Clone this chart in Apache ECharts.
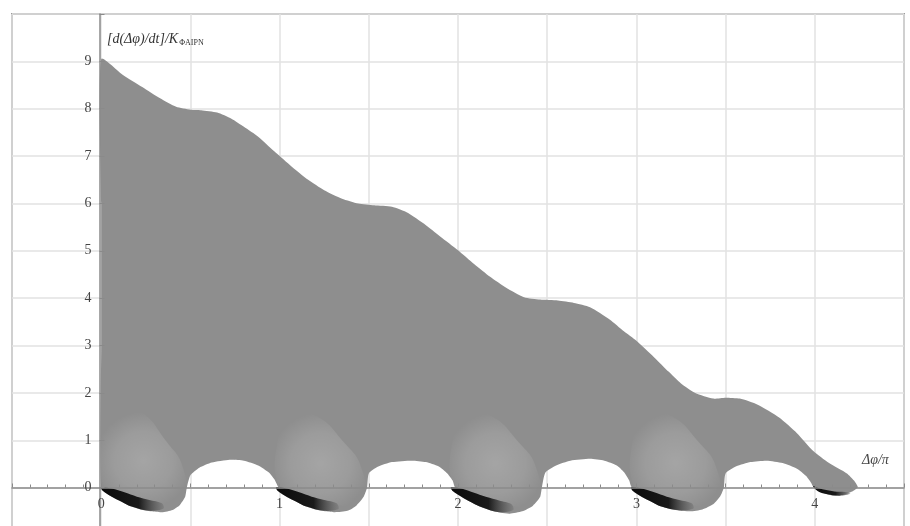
<!DOCTYPE html>
<html>
<head>
<meta charset="utf-8">
<script src="https://cdn.jsdelivr.net/npm/echarts@6.0.0/dist/echarts.min.js"></script>
<style>
  html, body { margin: 0; padding: 0; background: #fff; }
  #chart { width: 910px; height: 526px; }
</style>
</head>
<body>
<div id="chart"></div>
<script>
// x = Δφ/π, y = [d(Δφ)/dt]/K
// upper envelope of the family of trajectories
var topEdge = [
  [0, 9.05], [0.12, 8.72], [0.23, 8.46], [0.33, 8.22], [0.42, 8.04], [0.5, 7.98],
  [0.56, 7.97], [0.65, 7.92], [0.73, 7.79], [0.8, 7.62], [0.88, 7.41], [0.97, 7.1],
  [1.07, 6.77], [1.16, 6.5], [1.25, 6.28], [1.35, 6.1], [1.44, 6.0], [1.53, 5.96],
  [1.63, 5.93], [1.72, 5.8], [1.81, 5.57], [1.9, 5.3], [2.0, 5.01], [2.09, 4.72],
  [2.18, 4.45], [2.27, 4.22], [2.37, 4.02], [2.46, 3.97], [2.56, 3.95], [2.65, 3.9],
  [2.74, 3.81], [2.85, 3.55], [2.93, 3.3], [3.0, 3.1], [3.1, 2.75], [3.18, 2.45],
  [3.25, 2.2], [3.33, 2.0], [3.43, 1.88], [3.5, 1.9], [3.58, 1.88], [3.68, 1.75],
  [3.8, 1.48], [3.9, 1.15], [3.99, 0.78], [4.08, 0.52], [4.18, 0.3], [4.22, 0.15],
  [4.24, 0.03]
];

// lower edge, left to right: loops under the axis, white arches above it
var lowEdge = [
  [0, 0], [0.05, -0.17], [0.1, -0.27], [0.17, -0.4], [0.22, -0.46], [0.28, -0.5],
  [0.34, -0.52], [0.4, -0.47], [0.44, -0.37], [0.47, -0.2], [0.48, 0], [0.5, 0.26],
  [0.55, 0.42], [0.62, 0.53], [0.72, 0.59], [0.8, 0.57], [0.88, 0.47], [0.94, 0.32],
  [0.97, 0.18], [0.99, 0.03],
  [1.03, -0.17], [1.08, -0.27], [1.15, -0.4], [1.2, -0.46], [1.26, -0.5], [1.31, -0.52],
  [1.38, -0.49], [1.43, -0.38], [1.47, -0.2], [1.49, 0], [1.5, 0.3], [1.55, 0.44],
  [1.63, 0.54], [1.74, 0.57], [1.82, 0.54], [1.89, 0.45], [1.94, 0.3], [1.97, 0.15],
  [1.98, 0.03],
  [2.01, -0.17], [2.06, -0.28], [2.13, -0.41], [2.19, -0.49], [2.24, -0.53], [2.29, -0.55],
  [2.36, -0.5], [2.42, -0.38], [2.46, -0.2], [2.47, 0], [2.49, 0.32], [2.55, 0.47],
  [2.63, 0.57], [2.74, 0.61], [2.82, 0.57], [2.89, 0.47], [2.93, 0.33], [2.96, 0.15],
  [2.97, 0.03],
  [3.02, -0.17], [3.07, -0.27], [3.14, -0.4], [3.19, -0.45], [3.25, -0.49], [3.3, -0.5],
  [3.37, -0.46], [3.43, -0.35], [3.47, -0.18], [3.49, 0], [3.5, 0.3], [3.56, 0.45],
  [3.64, 0.54], [3.73, 0.57], [3.82, 0.52], [3.9, 0.4], [3.95, 0.25], [3.98, 0.1],
  [3.99, 0.03],
  [4.04, -0.1], [4.1, -0.17], [4.16, -0.15], [4.21, -0.08], [4.24, 0]
];

// left edge: curves start on x = 0 between 0 and 9
var leftEdge = [[0, 3], [0, 6]];

// paler patches where the curves wind round the stable points
var pale0 = [[0.02, 0.0], [0.0, 1.0], [0.08, 1.7], [0.22, 1.6], [0.36, 1.0], [0.46, 0.4], [0.46, -0.3], [0.3, -0.35], [0.12, -0.1]];
var pale1 = [[1.0, 0.0], [0.99, 1.0], [1.07, 1.6], [1.21, 1.5], [1.35, 1.0], [1.46, 0.4], [1.46, -0.3], [1.3, -0.35], [1.1, -0.1]];
var pale2 = [[1.98, 0.0], [1.97, 1.0], [2.05, 1.6], [2.19, 1.5], [2.33, 1.0], [2.44, 0.4], [2.44, -0.3], [2.28, -0.37], [2.08, -0.1]];
var pale3 = [[2.99, 0.0], [2.98, 1.0], [3.06, 1.6], [3.2, 1.5], [3.34, 1.0], [3.45, 0.4], [3.45, -0.3], [3.29, -0.35], [3.09, -0.1]];

// dark cores where the trajectories spiral into the stable points
var core0 = [[0, 0], [0.06, -0.02], [0.13, -0.1], [0.2, -0.19], [0.27, -0.26], [0.34, -0.33],
  [0.35, -0.44], [0.27, -0.49], [0.17, -0.4], [0.1, -0.27], [0.05, -0.17], [0.01, -0.07]];
var core1 = [[0.98, 0.01], [1.04, -0.02], [1.11, -0.1], [1.18, -0.19], [1.25, -0.26], [1.32, -0.33],
  [1.33, -0.45], [1.25, -0.49], [1.15, -0.4], [1.08, -0.27], [1.03, -0.17], [0.99, -0.07]];
var core2 = [[1.96, 0.01], [2.02, -0.02], [2.09, -0.11], [2.16, -0.2], [2.23, -0.27], [2.3, -0.35],
  [2.31, -0.47], [2.23, -0.52], [2.13, -0.41], [2.06, -0.28], [2.01, -0.17], [1.97, -0.07]];
var core3 = [[2.97, 0.01], [3.03, -0.02], [3.1, -0.1], [3.17, -0.19], [3.24, -0.26], [3.31, -0.33],
  [3.32, -0.44], [3.24, -0.48], [3.14, -0.4], [3.07, -0.27], [3.02, -0.17], [2.98, -0.07]];
var core4 = [[3.99, 0.03], [4.05, -0.04], [4.11, -0.08], [4.17, -0.09], [4.2, -0.13],
  [4.14, -0.17], [4.07, -0.14], [4.02, -0.08]];

var xTicks = [0, 1, 2, 3, 4];
var yTicks = [0, 1, 2, 3, 4, 5, 6, 7, 8, 9];

var serif = "'Liberation Serif', 'DejaVu Serif', serif";
var axisGray = '#8a8a8a';

// one polygon per series, drawn through the cartesian coords
function polygonSeries(points, fill, z, smooth) {
  return {
    type: 'custom',
    coordinateSystem: 'cartesian2d',
    xAxisIndex: 0,
    yAxisIndex: 0,
    z: z,
    silent: true,
    data: points,
    renderItem: function (params, api) {
      if (params.dataIndex !== 0) return;
      var pts = points.map(function (p) { return api.coord(p); });
      return {
        type: 'polygon',
        shape: { points: pts, smooth: smooth || 0 },
        style: { fill: fill, stroke: null }
      };
    }
  };
}

var band = topEdge.concat(lowEdge.slice().reverse(), leftEdge);
var coreFill = new echarts.graphic.LinearGradient(0, 0, 1, 0, [
  { offset: 0, color: '#0a0a0a' },
  { offset: 0.6, color: '#1a1a1a' },
  { offset: 1, color: 'rgba(120,120,120,0.6)' }
]);
var paleFill = new echarts.graphic.RadialGradient(0.5, 0.55, 0.55, [
  { offset: 0, color: 'rgba(255,255,255,0.2)' },
  { offset: 0.6, color: 'rgba(255,255,255,0.12)' },
  { offset: 1, color: 'rgba(255,255,255,0)' }
]);

var hidden = { show: false };

var chart = echarts.init(document.getElementById('chart'));
chart.setOption({
  animation: false,
  backgroundColor: '#fff',
  grid: [
    // plotting area with frame and grid lines
    { left: 12, right: 6, top: 14, bottom: -9, show: true, borderColor: '#9a9a9a', borderWidth: 2, outerBoundsMode: 'none' },
    // vertical axis sitting on x = 0
    { left: 99.5, right: 6, top: 14, bottom: -9, outerBoundsMode: 'none' },
    // horizontal axis sitting on y = 0
    { left: 12, right: 6, top: 14, bottom: 38.5, outerBoundsMode: 'none' }
  ],
  xAxis: [
    {
      gridIndex: 0, type: 'value', min: -0.5, max: 4.5, interval: 0.5,
      axisLine: hidden, axisTick: hidden, axisLabel: hidden,
      splitLine: { show: true, lineStyle: { color: '#e2e2e2', width: 1.5 } }
    },
    { gridIndex: 1, type: 'value', min: 0, max: 4.5, show: false },
    {
      gridIndex: 2, type: 'value', min: -0.5, max: 4.5, interval: 0.5, position: 'bottom', z: 10,
      axisLine: { show: true, onZero: false, lineStyle: { color: axisGray, width: 1.5 } },
      axisTick: { show: true, inside: true, length: 4, lineStyle: { color: axisGray } },
      minorTick: { show: true, splitNumber: 5, length: 3, lineStyle: { color: axisGray } },
      splitLine: { show: false },
      axisLabel: {
        margin: 10, color: '#444', fontFamily: serif, fontSize: 14,
        formatter: function (v) { return xTicks.indexOf(v) >= 0 ? String(v) : ''; }
      }
    }
  ],
  yAxis: [
    {
      gridIndex: 0, type: 'value', min: -1, max: 10, interval: 1,
      axisLine: hidden, axisTick: hidden, axisLabel: hidden,
      splitLine: { show: true, lineStyle: { color: '#e2e2e2', width: 1.5 } }
    },
    {
      gridIndex: 1, type: 'value', min: -1, max: 10, interval: 1, position: 'left', z: 10,
      axisLine: { show: true, onZero: false, lineStyle: { color: axisGray, width: 1.5 } },
      axisTick: { show: true, inside: true, length: 5, lineStyle: { color: axisGray } },
      splitLine: { show: false },
      axisLabel: {
        margin: 8, color: '#444', fontFamily: serif, fontSize: 14,
        formatter: function (v) { return yTicks.indexOf(v) >= 0 ? String(v) : ''; }
      }
    },
    { gridIndex: 2, type: 'value', min: 0, max: 10, show: false }
  ],
  graphic: [
    {
      type: 'text', left: 107, top: 32, z: 20,
      style: {
        text: '{a|[d(Δφ)/dt]/K}{s|ΦAIPN}',
        fill: '#333',
        rich: {
          a: { fontFamily: serif, fontStyle: 'italic', fontSize: 14, fill: '#333' },
          s: { fontFamily: serif, fontSize: 8, fill: '#333', padding: [7, 0, 0, 1] }
        }
      }
    },
    {
      type: 'text', left: 862, top: 453, z: 20,
      style: { text: 'Δφ/π', fontFamily: serif, fontStyle: 'italic', fontSize: 14, fill: '#444' }
    }
  ],
  series: [
    polygonSeries(band, '#8e8e8e', 3, 0.2),
    polygonSeries(pale0, paleFill, 3.5, 0.5),
    polygonSeries(pale1, paleFill, 3.5, 0.5),
    polygonSeries(pale2, paleFill, 3.5, 0.5),
    polygonSeries(pale3, paleFill, 3.5, 0.5),
    polygonSeries(core0, coreFill, 4, 0.3),
    polygonSeries(core1, coreFill, 4, 0.3),
    polygonSeries(core2, coreFill, 4, 0.3),
    polygonSeries(core3, coreFill, 4, 0.3),
    polygonSeries(core4, coreFill, 4, 0.3)
  ]
});
</script>
</body>
</html>
